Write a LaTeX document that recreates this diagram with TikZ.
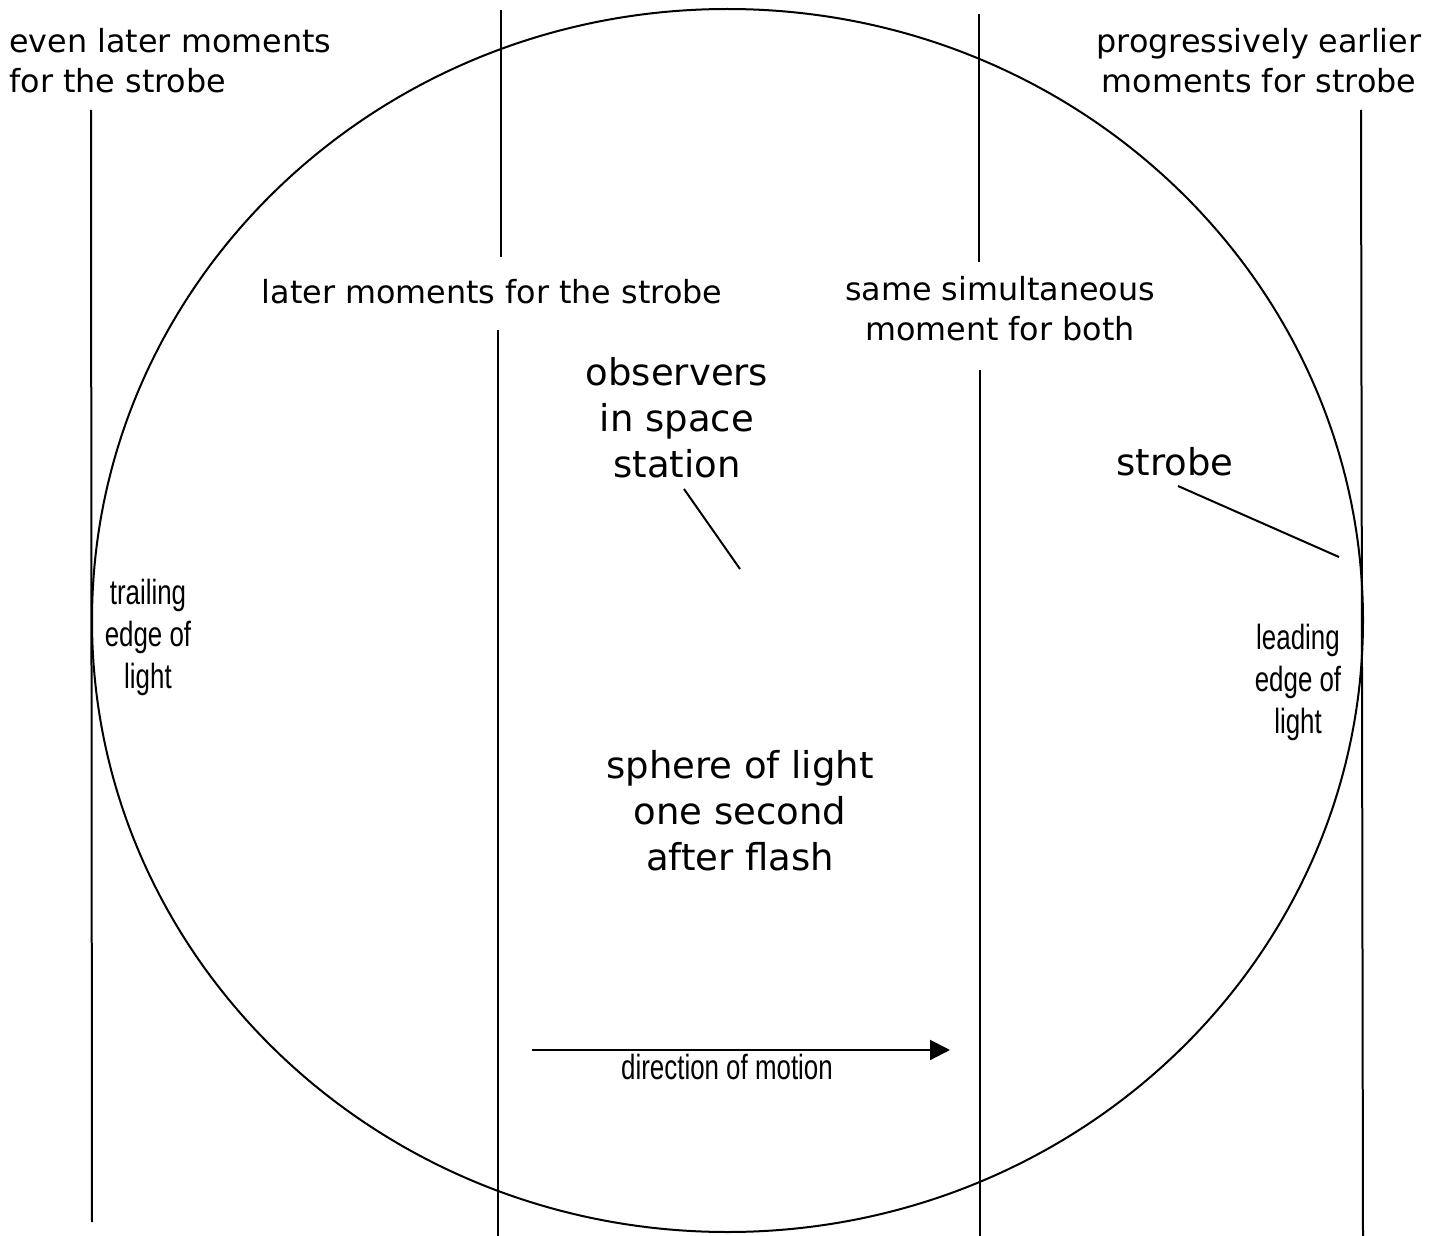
\documentclass[tikz,border=0pt]{standalone}
\usepackage{fontspec}
\setmainfont{DejaVu Sans}
\newfontfamily\narrowfont[FakeStretch=0.74]{Liberation Sans}
\usetikzlibrary{arrows.meta}
\begin{document}
\begin{tikzpicture}[x=0.5pt,y=-0.5pt,
  rule/.style={line width=1pt},
  midtext/.style={font=\fontsize{15.9}{20}\selectfont, inner sep=0pt, align=center, anchor=base},
  bigtext/.style={font=\fontsize{18.5}{23}\selectfont, inner sep=0pt, align=center, anchor=base},
  narrowtext/.style={font=\narrowfont\fontsize{17.5}{21}\selectfont, inner sep=0pt, align=center, anchor=base}]
\useasboundingbox[fill=white] (0,0) rectangle (1442,1236);
\draw[rule] (727.5,620.5) ellipse [x radius=635.5, y radius=611.5];
% vertical lines
\coordinate (l1t) at (91,110);   \coordinate (l1b) at (92,1222);
\coordinate (l2t) at (501,10);   \coordinate (l2m) at (501,257);
\coordinate (l2n) at (498,330);  \coordinate (l2b) at (498,1236);
\coordinate (l3t) at (979,14);   \coordinate (l3m) at (979,262);
\coordinate (l3n) at (980,370);  \coordinate (l3b) at (980,1236);
\coordinate (l4t) at (1361,110); \coordinate (l4b) at (1363,1236);
\draw[rule] (l1t) -- (l1b);
\draw[rule] (l2t) -- (l2m);
\draw[rule] (l2n) -- (l2b);
\draw[rule] (l3t) -- (l3m);
\draw[rule] (l3n) -- (l3b);
\draw[rule] (l4t) -- (l4b);
% labels (anchor = baseline of the last line)
\node[midtext, align=left, anchor=base west] (evenlater) at (9,93) {even later moments\\for the strobe};
\node[midtext] (progressive) at (1259,93) {progressively earlier\\moments for strobe};
\node[midtext] (later) at (492,303) {later moments for the strobe};
\node[midtext] (same) at (1000,340) {same simultaneous\\moment for both};
\node[bigtext] (observers) at (677,477) {observers\\in space\\station};
\node[bigtext] (strobe) at (1175,475) {strobe};
\node[bigtext] (sphere) at (740,870) {sphere of light\\one second\\after flash};
\node[narrowtext] (trailing) at (148,688) {trailing\\edge of\\light};
\node[narrowtext] (leading) at (1298,733) {leading\\edge of\\light};
\node[narrowtext] (direction) at (727,1079) {direction of motion};
% pointers
\coordinate (obsend) at (740,569);
\coordinate (strobeend) at (1339,557);
\draw[rule] (684,489) -- (obsend);
\draw[rule] (1178,486) -- (strobeend);
% motion arrow
\coordinate (arrs) at (532,1050);
\coordinate (arre) at (950,1050);
\draw[rule, -{Triangle[length=10pt, width=10pt]}] (arrs) -- (arre);
\end{tikzpicture}
\end{document}
